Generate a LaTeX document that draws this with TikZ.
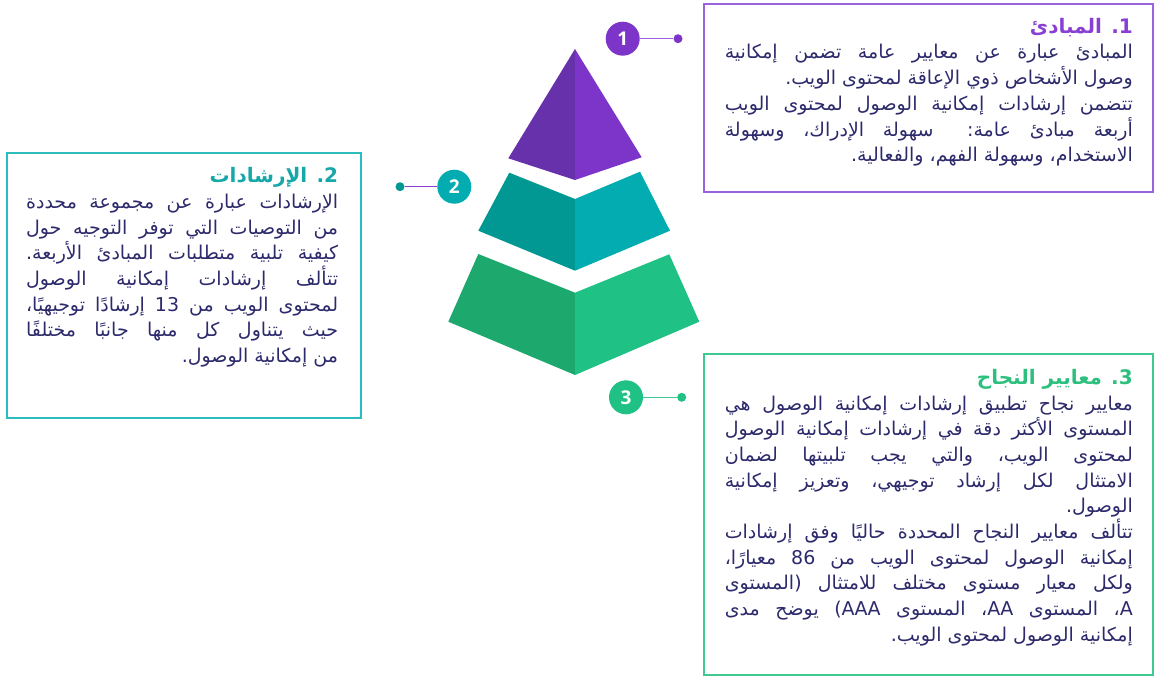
\documentclass[tikz,border=0pt]{standalone}
\usepackage{fontspec}
\usepackage{xcolor}
\TeXXeTstate=1
\newfontfamily\arabicfont[Script=Arabic]{DejaVu Sans}
\newfontfamily\numfont{Open Sans}

\definecolor{txtnavy}{HTML}{2D2A6C}
\definecolor{purpleA}{HTML}{6631AA}
\definecolor{purpleB}{HTML}{7C35C8}
\definecolor{purpleT}{HTML}{8A3FD3}
\definecolor{purpleL}{HTML}{9B62DD}
\definecolor{tealA}{HTML}{019893}
\definecolor{tealB}{HTML}{02ACB1}
\definecolor{tealT}{HTML}{16A7A8}
\definecolor{tealL}{HTML}{2BBDBE}
\definecolor{greenA}{HTML}{1DA86E}
\definecolor{greenB}{HTML}{20C184}
\definecolor{greenT}{HTML}{2CBF7E}
\definecolor{greenL}{HTML}{3FC890}

\newdimen\linew
% justified line, ragged line, heading line
\newcommand\jline[1]{\hbox to \linew{#1}}
\newcommand\rline[1]{\hbox to \linew{\hfill#1}}
\newcommand\tline[2]{\hbox to \linew{\hfill\bfseries\fontsize{20}{22}\selectfont\color{#1}#2}}

\begin{document}
\begin{tikzpicture}[x=1pt,y=-1pt,
    badge/.style={circle,fill=#1,minimum size=34pt,inner sep=0pt,text=white,
      font=\numfont\bfseries\fontsize{19}{19}\selectfont},
    pin/.style={circle,fill=#1,minimum size=9pt,inner sep=0pt},
    frame/.style={draw=#1,line width=1.2pt,inner sep=0pt},
    body/.style={inner sep=0pt,anchor=base east,text=txtnavy,
      font=\arabicfont\fontsize{19}{25.7}\selectfont}]
    \useasboundingbox (0,0) rectangle (1161,676);

    %tier one
    \fill[purpleA] (575,49) -- (508.3,158.3) -- (575,180) -- cycle;
    \fill[purpleB] (575,49) -- (575,180) -- (641.7,157.3) -- cycle;
    %tier two
    \fill[tealA] (509.3,172.7) -- (575,199) -- (575,270.7) -- (478.3,230.7) -- cycle;
    \fill[tealB] (575,199) -- (640,171.7) -- (670,230.7) -- (575,270.7) -- cycle;
    %tier three
    \fill[greenA] (478.3,254) -- (575,292.7) -- (575,375) -- (448.3,321.7) -- cycle;
    \fill[greenB] (575,292.7) -- (669.3,254.3) -- (699.3,321.7) -- (575,375) -- cycle;

    % badges and their pins
    \node[badge=purpleB] (n1) at (622.7,38.7) {1};
    \node[pin=purpleB] (p1) at (678,38.7) {};
    \draw[purpleL,line width=1.5pt] (n1) -- (p1);

    \node[badge=tealB] (n2) at (454.3,186.7) {2};
    \node[pin=tealA] (p2) at (400,186.7) {};
    \draw[purpleT,line width=1.3pt] (p2) -- (n2);

    \node[badge=greenB] (n3) at (626,397.3) {3};
    \node[pin=greenB] (p3) at (681.7,397.3) {};
    \draw[greenL,line width=1.5pt] (n3) -- (p3);

    % the three frames
    \node[frame=purpleL,minimum width=449pt,minimum height=188pt] (box1) at (928.5,98) {};
    \node[frame=tealL,minimum width=354pt,minimum height=265pt] (box2) at (184,285.5) {};
    \node[frame=greenL,minimum width=449pt,minimum height=321pt] (box3) at (928.5,514.5) {};

    %principles
    \node[body] (txt1) at (1133,33.3) {\linew=408pt\vtop{\baselineskip=25.7pt
      \tline{purpleT}{\beginR 1\kern0pt. المبادئ\endR}
      \jline{\beginR المبادئ عبارة عن معايير عامة تضمن إمكانية\endR}
      \rline{\beginR وصول الأشخاص ذوي الإعاقة لمحتوى الويب.\endR}
      \jline{\beginR تتضمن إرشادات إمكانية الوصول لمحتوى الويب\endR}
      \jline{\beginR أربعة مبادئ عامة: سهولة الإدراك، وسهولة\endR}
      \rline{\beginR الاستخدام، وسهولة الفهم، والفعالية.\endR}}};

    %guidelines
    \node[body] (txt2) at (338.3,182.7) {\linew=312pt\vtop{\baselineskip=25.7pt
      \tline{tealT}{\beginR 2\kern0pt. الإرشادات\endR}
      \jline{\beginR الإرشادات عبارة عن مجموعة محددة\endR}
      \jline{\beginR من التوصيات التي توفر التوجيه حول\endR}
      \jline{\beginR كيفية تلبية متطلبات المبادئ الأربعة.\endR}
      \jline{\beginR تتألف إرشادات إمكانية الوصول\endR}
      \jline{\beginR لمحتوى الويب من 13 إرشادًا توجيهيًا،\endR}
      \jline{\beginR حيث يتناول كل منها جانبًا مختلفًا\endR}
      \rline{\beginR من إمكانية الوصول.\endR}}};

    %success criteria
    \node[body] (txt3) at (1133,384.3) {\linew=408pt\vtop{\baselineskip=25.7pt
      \tline{greenT}{\beginR 3\kern0pt. معايير النجاح\endR}
      \jline{\beginR معايير نجاح تطبيق إرشادات إمكانية الوصول هي\endR}
      \jline{\beginR المستوى الأكثر دقة في إرشادات إمكانية الوصول\endR}
      \jline{\beginR لمحتوى الويب، والتي يجب تلبيتها لضمان\endR}
      \jline{\beginR الامتثال لكل إرشاد توجيهي، وتعزيز إمكانية\endR}
      \rline{\beginR الوصول.\endR}
      \jline{\beginR تتألف معايير النجاح المحددة حاليًا وفق إرشادات\endR}
      \jline{\beginR إمكانية الوصول لمحتوى الويب من 86 معيارًا،\endR}
      \jline{\beginR ولكل معيار مستوى مختلف للامتثال (المستوى\endR}
      \jline{\beginR A\kern0pt، المستوى AA\kern0pt، المستوى AAA\kern0pt) يوضح مدى\endR}
      \rline{\beginR إمكانية الوصول لمحتوى الويب.\endR}}};
\end{tikzpicture}
\end{document}
